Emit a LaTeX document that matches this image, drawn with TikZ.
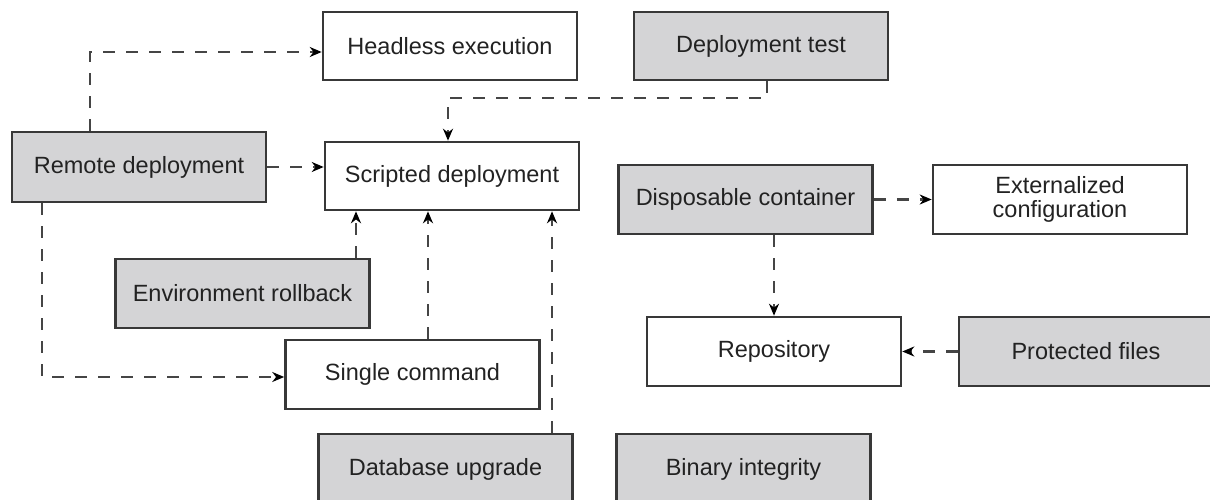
\documentclass[tikz,border=0pt]{standalone}
\usepackage{fontspec}
\setmainfont{Liberation Sans}
\usetikzlibrary{arrows.meta,calc}
\definecolor{boxgray}{HTML}{D4D4D6}
\definecolor{edge}{HTML}{383838}
\definecolor{txt}{HTML}{222222}
\definecolor{dashc}{HTML}{454545}
\tikzset{
  box/.style={draw=edge, line width=2.6pt, fill=white, minimum width=254pt, minimum height=68pt,
    inner sep=0pt, align=center, text=txt, font=\fontsize{23.5}{24.5}\selectfont},
  gbox/.style={box, fill=boxgray},
  conn/.style={draw=dashc, line width=2.8pt, dash pattern=on 12pt off 11pt,
    -{Stealth[length=12pt,width=10pt,color=black,fill=black]}},
}
\begin{document}
\begin{tikzpicture}[x=1pt,y=-1pt]
\useasboundingbox (0,0) rectangle (1210,500);
% nodes
\node[box]  (headless)   at (450,46)    {Headless execution};
\node[gbox] (deploytest) at (761,46)    {Deployment test};
\node[gbox, minimum height=70pt] (remote) at (139,167) {Remote deployment};
\node[box]  (scripted)   at (452,176)   {Scripted deployment};
\node[gbox, minimum height=69pt] (dispos) at (745.5,199.5) {Disposable container};
\node[box, minimum height=69pt]  (extern) at (1060,199.5) {Externalized\\configuration};
\node[gbox, minimum height=69pt] (envroll) at (242.5,293.5) {Environment rollback};
\node[box, minimum height=69pt]  (repo)   at (774,351.5) {Repository};
\node[gbox, minimum height=69pt] (protect) at (1086,351.5) {Protected files};
\node[box, minimum height=69pt]  (single) at (412.5,374.5) {Single command};
\node[gbox, minimum height=70pt] (dbup)   at (445.5,469) {Database upgrade};
\node[gbox, minimum height=70pt] (binary) at (743.5,469) {Binary integrity};
% helper coordinates
\coordinate (k1) at (90,52);
\coordinate (k2) at (42,377);
\coordinate (k3) at (448,98);
\coordinate (k4) at (767,98);
\coordinate (k5) at (356,0);
\coordinate (k6) at (428,0);
\coordinate (k7) at (552,0);
% connectors
\draw[conn] (remote.north -| k1) -- (k1) -- (headless.west |- k1);
\draw[conn] (remote.east) -- (scripted.west |- remote.east);
\draw[conn] (remote.south -| k2) -- (k2) -- (single.west |- k2);
\draw[conn] (deploytest.south -| k4) -- (k4) -- (k3) -- (scripted.north -| k3);
\draw[conn] (envroll.north -| k5) -- (scripted.south -| k5);
\draw[conn] (single.north -| k6) -- (scripted.south -| k6);
\draw[conn] (dbup.north -| k7) -- (scripted.south -| k7);
\draw[conn] (dispos.east) -- (extern.west);
\draw[conn] (dispos.south -| repo.north) -- (repo.north);
\draw[conn] (protect.west) -- (repo.east);
\end{tikzpicture}
\end{document}
